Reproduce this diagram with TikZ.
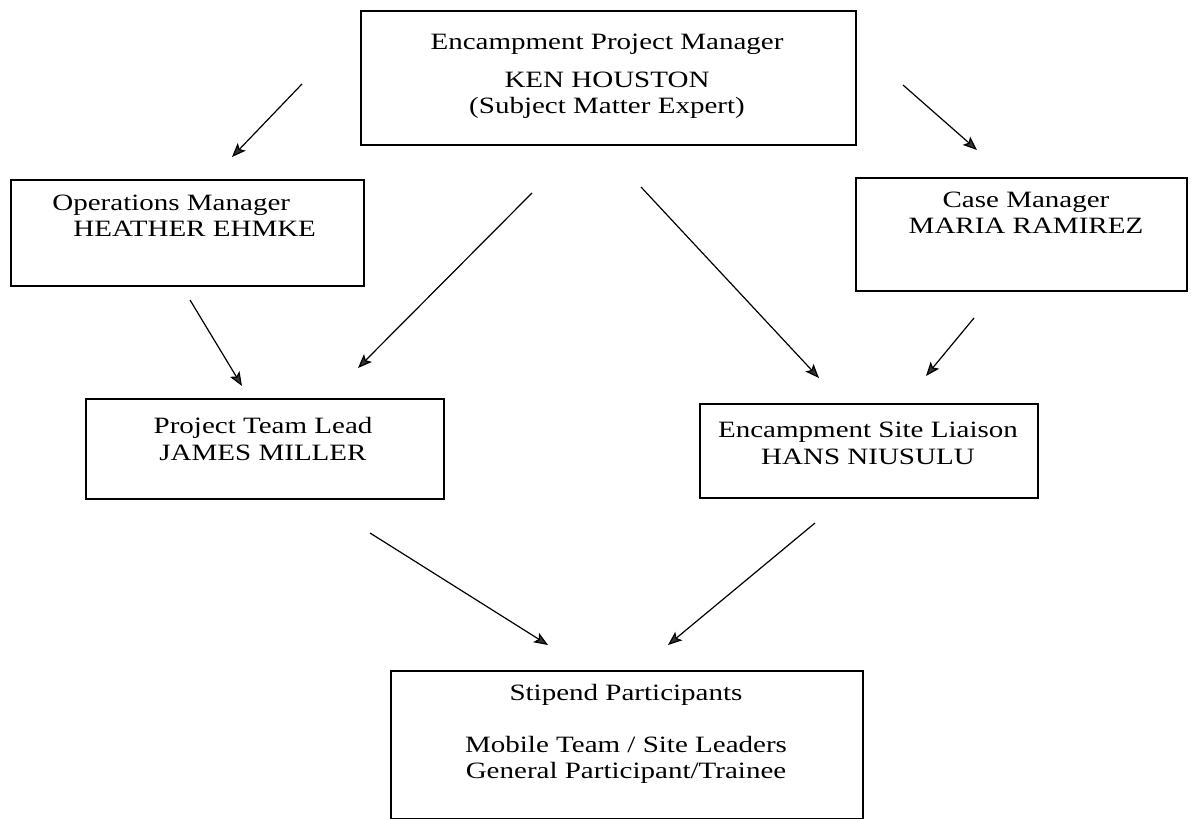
\documentclass[tikz,border=0pt]{standalone}
\usepackage{fontspec}
\setmainfont{Liberation Serif}[FakeStretch=1.24]
\usetikzlibrary{arrows.meta}
\begin{document}
\begin{tikzpicture}[x=0.5pt,y=-0.5pt,
  box/.style={draw,line width=1pt,inner sep=0pt,anchor=north west},
  lbl/.style={anchor=base,inner sep=0pt,font=\fontsize{11.7}{13}\selectfont},
  lblw/.style={lbl,anchor=base west},
  arr/.style={line width=0.6pt,-{Stealth[length=7pt,width=5.5pt,inset=1.5pt,fill=black!80]}}]
\useasboundingbox (0,0) rectangle (1191,819);
% boxes
\node[box,minimum width=247.5pt,minimum height=67pt] (top) at (360,10) {};
\node[box,minimum width=176.5pt,minimum height=53pt] (ops) at (10,179) {};
\node[box,minimum width=165.5pt,minimum height=56.5pt] (case) at (855,177) {};
\node[box,minimum width=179pt,minimum height=50pt] (ptl) at (85,398) {};
\node[box,minimum width=169pt,minimum height=47pt] (site) at (699,403) {};
\node[box,minimum width=236pt,minimum height=74pt] (stip) at (390,670) {};
% texts
\node[lbl] (top1) at (607,49) {Encampment Project Manager};
\node[lbl] (top2) at (607,87) {KEN HOUSTON};
\node[lbl] (top3) at (607,113) {(Subject Matter Expert)};
\node[lblw] (ops1) at (52,210) {Operations Manager};
\node[lblw] (ops2) at (73,236) {HEATHER EHMKE};
\node[lbl] (case1) at (1026,207) {Case Manager};
\node[lbl] (case2) at (1026,233) {MARIA RAMIREZ};
\node[lbl] (ptl1) at (263,433) {Project Team Lead};
\node[lbl] (ptl2) at (263,460) {JAMES MILLER};
\node[lbl] (site1) at (868,437) {Encampment Site Liaison};
\node[lbl] (site2) at (868,464) {HANS NIUSULU};
\node[lbl] (st1) at (626,700) {Stipend Participants};
\node[lbl] (st2) at (626,752) {Mobile Team / Site Leaders};
\node[lbl] (st3) at (626,778) {General Participant/Trainee};
% arrow ends
\coordinate (a1s) at (302,84);  \coordinate (a1e) at (232,157);
\coordinate (a2s) at (903,85);  \coordinate (a2e) at (977,150);
\coordinate (a3s) at (190,300); \coordinate (a3e) at (242,386);
\coordinate (a4s) at (532,193); \coordinate (a4e) at (358,368);
\coordinate (a5s) at (641,187); \coordinate (a5e) at (819,378);
\coordinate (a6s) at (974,318); \coordinate (a6e) at (926,376);
\coordinate (a7s) at (370,533); \coordinate (a7e) at (548,645);
\coordinate (a8s) at (815,523); \coordinate (a8e) at (668,645);
\foreach \i in {1,...,8} {\draw[arr] (a\i s) -- (a\i e);}
\end{tikzpicture}
\end{document}
